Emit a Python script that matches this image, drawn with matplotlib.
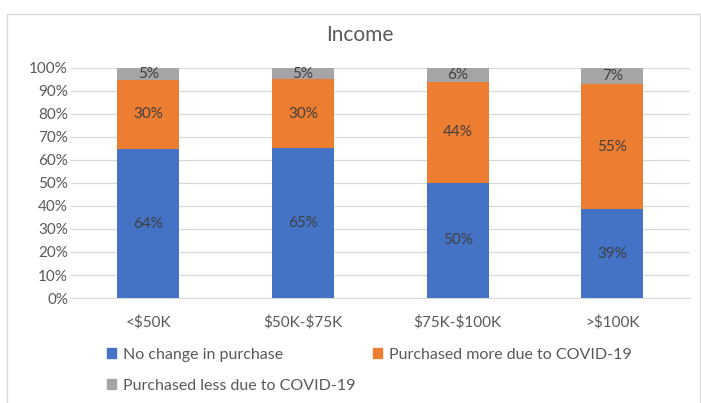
import numpy as np
import matplotlib
matplotlib.use('Agg')
from matplotlib import pyplot as plt
from matplotlib.patches import Rectangle, Patch

# income groups and shares (%), as labelled on the chart
categories = ['<$50K', '$50K-$75K', '$75K-$100K', '>$100K']
no_change = [64, 65, 50, 39]
more_covid = [30, 30, 44, 55]
less_covid = [5, 5, 6, 7]
series_names = ['No change in purchase', 'Purchased more due to COVID-19',
                'Purchased less due to COVID-19']
colors = ['#4472C4', '#ED7D31', '#A5A5A5']

plt.rcParams['font.family'] = ['Lato', 'DejaVu Sans']
plt.rcParams['text.parse_math'] = False  # keep the $ signs literal
text_col = '#595959'

fig = plt.figure(figsize=(7.01, 4.03), dpi=100)
ax = fig.add_axes([0.101, 0.2605, 0.883, 0.571])

raw = np.array([no_change, more_covid, less_covid], dtype=float)
shares = raw / raw.sum(axis=0) * 100  # 100% stacked
x = np.arange(len(categories))
bottom = np.zeros(len(categories))
for i, (vals, lab, c) in enumerate(zip(shares, raw, colors)):
  ax.bar(x, vals, 0.4, bottom=bottom, color=c, zorder=3)
  for xi, b, v, l in zip(x, bottom, vals, lab):
    ax.text(xi, b + v / 2, '%d%%' % l, ha='center', va='center',
            fontsize=11, color='#404040', zorder=4)
  bottom += vals

ax.set_xlim(-0.5, len(categories) - 0.5)
ax.set_ylim(0, 100)
ax.set_yticks(np.arange(0, 101, 10))
ax.set_yticklabels(['%d%%' % t for t in range(0, 101, 10)])
ax.set_xticks(x)
ax.set_xticklabels(categories)
ax.tick_params(length=0, labelsize=11, labelcolor=text_col)
ax.tick_params(axis='y', pad=2)
ax.tick_params(axis='x', pad=12)
ax.grid(axis='y', color='#D9D9D9', linewidth=0.9, zorder=0)
for s in ['top', 'right', 'left']:
  ax.spines[s].set_visible(False)
ax.spines['bottom'].set_color('#D9D9D9')

fig.text(0.513, 0.913, 'Income', ha='center', va='center', fontsize=15, color=text_col)

# legend filled column-wise, so order handles to read row-wise
handles = [Patch(color=c) for c in colors]
order = [0, 2, 1]
fig.legend([handles[i] for i in order], [series_names[i] for i in order],
           ncol=2, loc='upper left', bbox_to_anchor=(0.152, 0.137),
           frameon=False, fontsize=11.5, labelcolor=text_col,
           handlelength=0.6, handleheight=0.6, handletextpad=0.45,
           columnspacing=1.05, labelspacing=1.05, borderaxespad=0, borderpad=0)

# chart border
fig.patches.append(Rectangle((0.01, -0.01), 0.988, 0.975, transform=fig.transFigure,
                             fill=False, edgecolor='#D9D9D9', linewidth=1))

fig.savefig('out.png', dpi=100)
